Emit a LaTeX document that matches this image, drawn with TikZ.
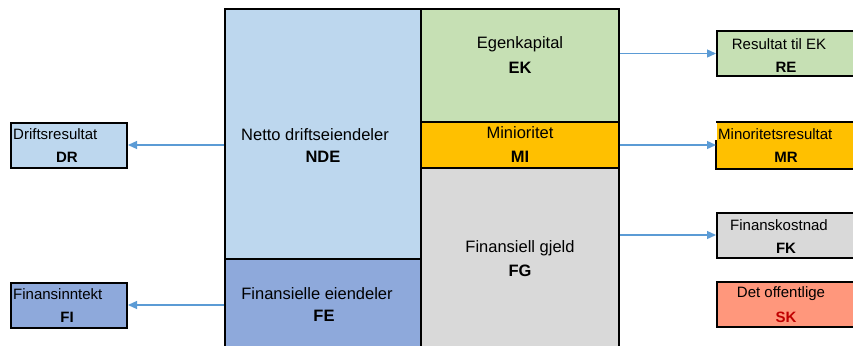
\documentclass[tikz,border=0pt]{standalone}
\usepackage{fontspec}
\setmainfont{Liberation Sans}
\usetikzlibrary{arrows.meta}
\definecolor{ndeblue}{HTML}{BDD7EE}
\definecolor{feblue}{HTML}{8EA9DB}
\definecolor{ekgreen}{HTML}{C6E0B4}
\definecolor{miorange}{HTML}{FFC000}
\definecolor{fggrey}{HTML}{D9D9D9}
\definecolor{sksalmon}{HTML}{FF977C}
\definecolor{skred}{HTML}{C00000}
\definecolor{arrowblue}{HTML}{5B9BD5}
\begin{document}
\begin{tikzpicture}[x=1pt,y={(0pt,-1pt)},
  bigbox/.style={draw=black,line width=2pt,inner sep=0pt},
  smallbox/.style={draw=black,line width=2pt,inner sep=0pt,minimum height=45pt},
  bigtxt/.style={font=\fontsize{16.5}{19}\selectfont,inner sep=0pt},
  smalltxt/.style={font=\fontsize{15}{17}\selectfont,inner sep=0pt},
  flow/.style={draw=arrowblue,line width=1.3pt,-{Triangle[length=9pt,width=8pt]}}]
\useasboundingbox (0,0) rectangle (853,345);
% balance sheet columns
\node[bigbox,fill=ndeblue,minimum width=196pt,minimum height=250pt] (nde) at (323,134) {};
\node[bigbox,fill=feblue,minimum width=196pt,minimum height=100pt] (fe) at (323,309) {};
\node[bigbox,fill=ekgreen,minimum width=198pt,minimum height=113pt] (ek) at (520,65.5) {};
\node[bigbox,fill=miorange,minimum width=198pt,minimum height=46pt] (mi) at (520,145) {};
\node[bigbox,fill=fggrey,minimum width=198pt,minimum height=190pt] (fg) at (520,263) {};
% labels on the balance sheet
\node[bigtxt] (ndet) at (315,135) {Netto driftseiendeler};
\node[bigtxt] (ndea) at (323,157) {\textbf{NDE}};
\node[bigtxt] (fet) at (317,294) {Finansielle eiendeler};
\node[bigtxt] (fea) at (324,316) {\textbf{FE}};
\node[bigtxt] (ekt) at (520,44) {Egenkapital};
\node[bigtxt] (eka) at (520,68) {\textbf{EK}};
\node[bigtxt] (mit) at (520,133) {Minioritet};
\node[bigtxt] (mia) at (520,157) {\textbf{MI}};
\node[bigtxt] (fgt) at (520,248) {Finansiell gjeld};
\node[bigtxt] (fga) at (520,271) {\textbf{FG}};
% result boxes on the left
\node[smallbox,fill=ndeblue,minimum width=116pt] (dr) at (69,145) {};
\node[smalltxt,anchor=west] at (13,134) {Driftsresultat};
\node[smalltxt] at (67,157) {\textbf{DR}};
\node[smallbox,fill=feblue,minimum width=116pt] (fi) at (69,305) {};
\node[smalltxt,anchor=west] at (13,294) {Finansinntekt};
\node[smalltxt] at (67,317) {\textbf{FI}};
% result boxes on the right
\node[smallbox,fill=ekgreen,minimum width=140pt] (re) at (787,53.5) {};
\node[smalltxt] at (779,44) {Resultat til EK};
\node[smalltxt] at (786,67) {\textbf{RE}};
\node[smallbox,draw=none,fill=miorange,minimum width=140pt] (mr) at (787,145) {};
\draw[line width=2pt] (mr.west |- 0,140) -- (mr.south west) -- (mr.south east) -- (mr.north east) -- (mr.north west);
\node[smalltxt,anchor=west] at (718,134) {Minoritetsresultat};
\node[smalltxt] at (786,157) {\textbf{MR}};
\node[smallbox,fill=fggrey,minimum width=140pt] (fk) at (787,235) {};
\node[smalltxt] at (779,225) {Finanskostnad};
\node[smalltxt] at (786,248) {\textbf{FK}};
\node[smallbox,fill=sksalmon,minimum width=140pt] (sk) at (787,304.5) {};
\node[smalltxt] at (781,294) {Det offentlige};
\node[smalltxt,text=skred] at (786,317) {\textbf{SK}};
% flows
\draw[flow] (nde.west |- dr.east) -- (dr.east);
\draw[flow] (fe.west |- fi.east) -- (fi.east);
\draw[flow] (ek.east |- re.west) -- (re.west);
\draw[flow] (mi.east |- mr.west) -- (mr.west);
\draw[flow] (fg.east |- fk.west) -- (fk.west);
\end{tikzpicture}
\end{document}
